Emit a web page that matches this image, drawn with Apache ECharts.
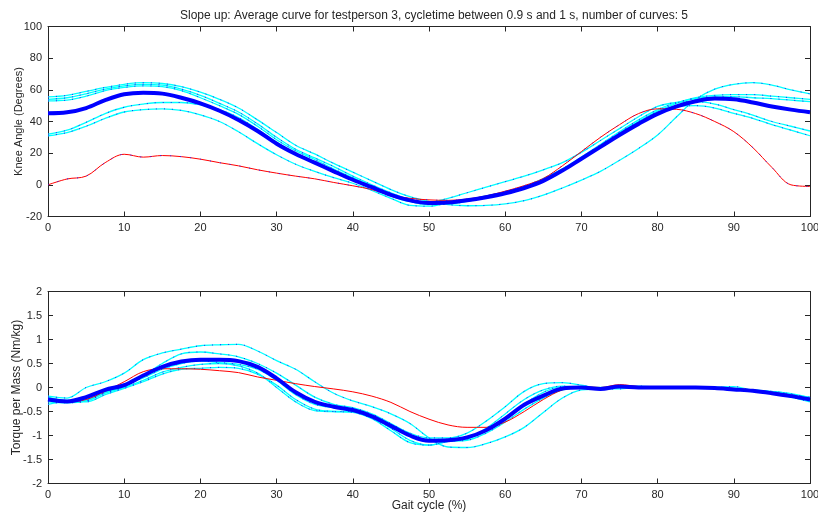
<!DOCTYPE html>
<html>
<head>
<meta charset="utf-8">
<script src="https://cdn.jsdelivr.net/npm/echarts@6/dist/echarts.min.js"></script>
<style>html,body{margin:0;padding:0;background:#fff}#c{width:818px;height:516px}</style>
</head>
<body>
<div id="c"></div>
<script>
// Gait cycle grid (%)
const gait = [0,2.5,5,7.5,10,12.5,15,17.5,20,22.5,25,27.5,30,32.5,35,37.5,40,42.5,45,47.5,50,52.5,55,57.5,60,62.5,65,67.5,70,72.5,75,77.5,80,82.5,85,87.5,90,92.5,95,97.5,100];
const xTicks = [0,10,20,30,40,50,60,70,80,90,100];

// Knee angle (degrees)
const kneeAvg = [45.2,45.8,48.5,53.5,57.2,58.2,57.6,55,51.5,46.8,41,34,26,19.5,14,8.5,3.2,-1.5,-6.3,-9.8,-11.5,-11.2,-9.8,-7.8,-5.3,-2,2.5,9,16.5,24,31.5,38.5,44.8,49.5,52.8,54.5,54,52,49.5,47.5,45.9];
const kneeC1 = [55.5,56.5,59,61.5,63.5,64.5,64,62,58.5,54,48.5,41,33,25,19.5,13.5,8,2.5,-3,-7.5,-10.5,-12.5,-13.2,-13,-12,-10,-6.5,-2,3,8.5,15.5,23,31.5,43,54,60.5,63.5,64.5,63,60,57.5];
const kneeC2 = [54,55,57.5,60.5,62.5,63.5,63,60.5,56.5,51.5,46,38.5,30,22.5,17,11.5,5.5,0,-5,-9.5,-12,-12,-10.5,-8,-5.5,-2,3,9.5,17,25,33,40,46.5,51.5,55,56.5,57,57,56,55,54];
const kneeC3 = [53,53.5,56,59.5,61.5,62.5,62,59.5,55,50,44.5,37,28.5,21.5,16,10,4.5,-1,-6,-10.5,-12.5,-12,-10,-7.5,-5,-1.5,3.5,10,17.5,25.5,33.5,41,47.5,52,54.5,55.5,55.7,55,54.5,53.5,52.5];
const kneeC4 = [32,34.5,39.5,45,49,51,52,52,50.5,47.5,42.5,35,27,19.5,14,8.5,3,-2,-7,-10.5,-11,-8.5,-5,-1.5,2,5.5,9.5,14,20.5,28,35.5,43,49.5,52,52.5,51,47.5,44,40,37,34];
const kneeC5 = [31,33,37,42,46,47.5,48,47,44.2,40,33.5,26,19,13,8.5,4.5,1,-3.5,-8.5,-13,-13.5,-11.5,-9.5,-7,-4.5,-1,4,10,16.5,24,31.5,39.5,46,49.5,50,48.5,45.2,42,38,34.5,31];
const kneeRed = [0,3.7,5.5,14,19.3,17.5,18.5,17.8,16.2,14,12,9.5,7.4,5.5,3.8,1.5,-0.6,-3,-6.5,-8.5,-9.5,-9.8,-9,-7,-4,-0.5,4,12,21,30,38,45,48,47.7,45,40,33.6,23.5,11,0,-1];

// Torque per mass (Nm/kg)
const torqAvg = [-0.25,-0.29,-0.2,-0.05,0.05,0.25,0.43,0.54,0.58,0.58,0.55,0.43,0.19,-0.1,-0.3,-0.4,-0.47,-0.6,-0.8,-1.0,-1.11,-1.1,-1.04,-0.89,-0.65,-0.36,-0.17,-0.02,0.0,-0.03,0.02,0.0,0.0,0.0,0.0,-0.01,-0.04,-0.07,-0.12,-0.18,-0.25];
const torqC1 = [-0.18,-0.22,0,0.12,0.3,0.58,0.72,0.8,0.87,0.89,0.9,0.76,0.56,0.38,0.12,-0.12,-0.28,-0.4,-0.55,-0.75,-1.05,-1.24,-1.25,-1.17,-1.03,-0.83,-0.52,-0.22,-0.05,-0.03,0.03,0,0,0,0,-0.02,-0.02,-0.05,-0.08,-0.14,-0.28];
const torqC2 = [-0.2,-0.27,-0.25,-0.1,0.02,0.25,0.5,0.7,0.74,0.7,0.64,0.5,0.3,0.05,-0.2,-0.35,-0.42,-0.55,-0.75,-0.95,-1.05,-1.05,-0.95,-0.7,-0.4,-0.08,0.08,0.1,0.05,-0.02,0.02,0.02,0,0,0,0,0.02,-0.06,-0.1,-0.15,-0.2];
const torqC3 = [-0.3,-0.32,-0.28,-0.12,0,0.15,0.32,0.42,0.48,0.5,0.45,0.3,0,-0.3,-0.48,-0.5,-0.5,-0.62,-0.85,-1.1,-1.2,-1.12,-1.08,-0.85,-0.55,-0.25,-0.05,0.03,0,-0.03,-0.03,0,0,0,0,-0.01,-0.03,-0.08,-0.1,-0.2,-0.3];
const torqC4 = [-0.35,-0.3,-0.3,-0.15,-0.02,0.12,0.28,0.38,0.4,0.42,0.4,0.28,0.05,-0.25,-0.45,-0.5,-0.52,-0.65,-0.9,-1.15,-1.2,-1.12,-1.1,-0.95,-0.72,-0.45,-0.22,-0.05,0,0,0,0.03,0.01,0,0,-0.01,-0.04,-0.05,-0.1,-0.15,-0.25];
const torqC5 = [-0.22,-0.3,-0.28,-0.1,0.05,0.2,0.38,0.5,0.55,0.52,0.48,0.38,0.15,-0.15,-0.35,-0.42,-0.45,-0.58,-0.8,-1.0,-1.08,-1.08,-1.05,-0.9,-0.65,-0.35,-0.1,0.02,0.02,-0.04,0,0,0,0,0,0,-0.02,-0.06,-0.09,-0.13,-0.22];
const torqRed = [-0.23,-0.3,-0.25,-0.08,0.12,0.33,0.39,0.39,0.38,0.35,0.31,0.22,0.15,0.08,0.02,-0.03,-0.09,-0.18,-0.31,-0.5,-0.66,-0.78,-0.83,-0.83,-0.72,-0.5,-0.25,-0.05,0.02,0,0.06,0.02,0,0,0,0,-0.02,-0.05,-0.1,-0.16,-0.23];

const titleText = 'Slope up: Average curve for testperson 3, cycletime between 0.9 s and 1 s, number of curves: 5';

const FONT = 'Liberation Sans';
const TXT = '#262626';
const pair = ys => gait.map((x, i) => [x, ys[i]]);

function axisCommon(showLabel){
  return {
    nameMoveOverlap: false,
    axisLine: {show: true, onZero: false, lineStyle: {color: '#262626', width: 1}},
    axisTick: {show: true, inside: true, length: 5, lineStyle: {color: '#262626'}},
    axisLabel: {show: showLabel, color: TXT, fontFamily: FONT, fontSize: 11, margin: 6},
    splitLine: {show: false}
  };
}

const xAxes = [];
const yAxes = [];
[0, 1].forEach(g => {
  xAxes.push(Object.assign({type: 'value', gridIndex: g, min: 0, max: 100, interval: 10, position: 'bottom'}, axisCommon(true),
    g === 1 ? {name: 'Gait cycle (%)', nameLocation: 'middle', nameGap: 16, nameTextStyle: {color: TXT, fontFamily: FONT, fontSize: 12}} : {}));
  xAxes.push(Object.assign({type: 'value', gridIndex: g, min: 0, max: 100, interval: 10, position: 'top'}, axisCommon(false)));
});
yAxes.push(Object.assign({type: 'value', gridIndex: 0, min: -20, max: 100, interval: 20, position: 'left',
  name: 'Knee Angle (Degrees)', nameLocation: 'middle', nameGap: 24, nameTextStyle: {color: TXT, fontFamily: FONT, fontSize: 11}}, axisCommon(true)));
yAxes.push(Object.assign({type: 'value', gridIndex: 0, min: -20, max: 100, interval: 20, position: 'right'}, axisCommon(false)));
yAxes.push(Object.assign({type: 'value', gridIndex: 1, min: -2, max: 2, interval: 0.5, position: 'left',
  name: 'Torque per Mass (Nm/kg)', nameLocation: 'middle', nameGap: 25, nameTextStyle: {color: TXT, fontFamily: FONT, fontSize: 12}}, axisCommon(true)));
yAxes.push(Object.assign({type: 'value', gridIndex: 1, min: -2, max: 2, interval: 0.5, position: 'right'}, axisCommon(false)));

function line(data, grid, color, width, dash, z){
  return {
    type: 'line', xAxisIndex: grid * 2, yAxisIndex: grid * 2, data: pair(data),
    smooth: 0.35, showSymbol: false, symbol: 'none', silent: true, z: z,
    lineStyle: {color: color, width: width, type: dash || 'solid'}
  };
}

const series = [];
const kneeCurves = [kneeC1, kneeC2, kneeC3, kneeC4, kneeC5];
const torqCurves = [torqC1, torqC2, torqC3, torqC4, torqC5];
kneeCurves.forEach(c => { series.push(line(c, 0, '#00FFFF', 1.3, null, 2)); series.push(line(c, 0, '#2020FF', 1, [1, 7], 3)); });
torqCurves.forEach(c => { series.push(line(c, 1, '#00FFFF', 1.3, null, 2)); series.push(line(c, 1, '#2020FF', 1, [1, 7], 3)); });
series.push(line(kneeRed, 0, '#FF0000', 1, null, 4));
series.push(line(kneeRed, 0, '#2020FF', 1, [1, 9], 4));
series.push(line(torqRed, 1, '#FF0000', 1, null, 4));
series.push(line(kneeAvg, 0, '#0000FF', 4, null, 5));
series.push(line(torqAvg, 1, '#0000FF', 4, null, 5));

const chart = echarts.init(document.getElementById('c'), null, {renderer: 'canvas'});
chart.setOption({
  animation: false,
  backgroundColor: '#ffffff',
  title: {text: titleText, left: 429, top: 5, textAlign: 'center',
    textStyle: {color: TXT, fontFamily: FONT, fontSize: 12, fontWeight: 'normal'}},
  grid: [
    {left: 48, right: 8, top: 26.5, height: 190, containLabel: false, outerBoundsMode: 'none'},
    {left: 48, right: 8, top: 291.5, height: 192, containLabel: false, outerBoundsMode: 'none'}
  ],
  xAxis: xAxes,
  yAxis: yAxes,
  series: series
});
</script>
</body>
</html>
